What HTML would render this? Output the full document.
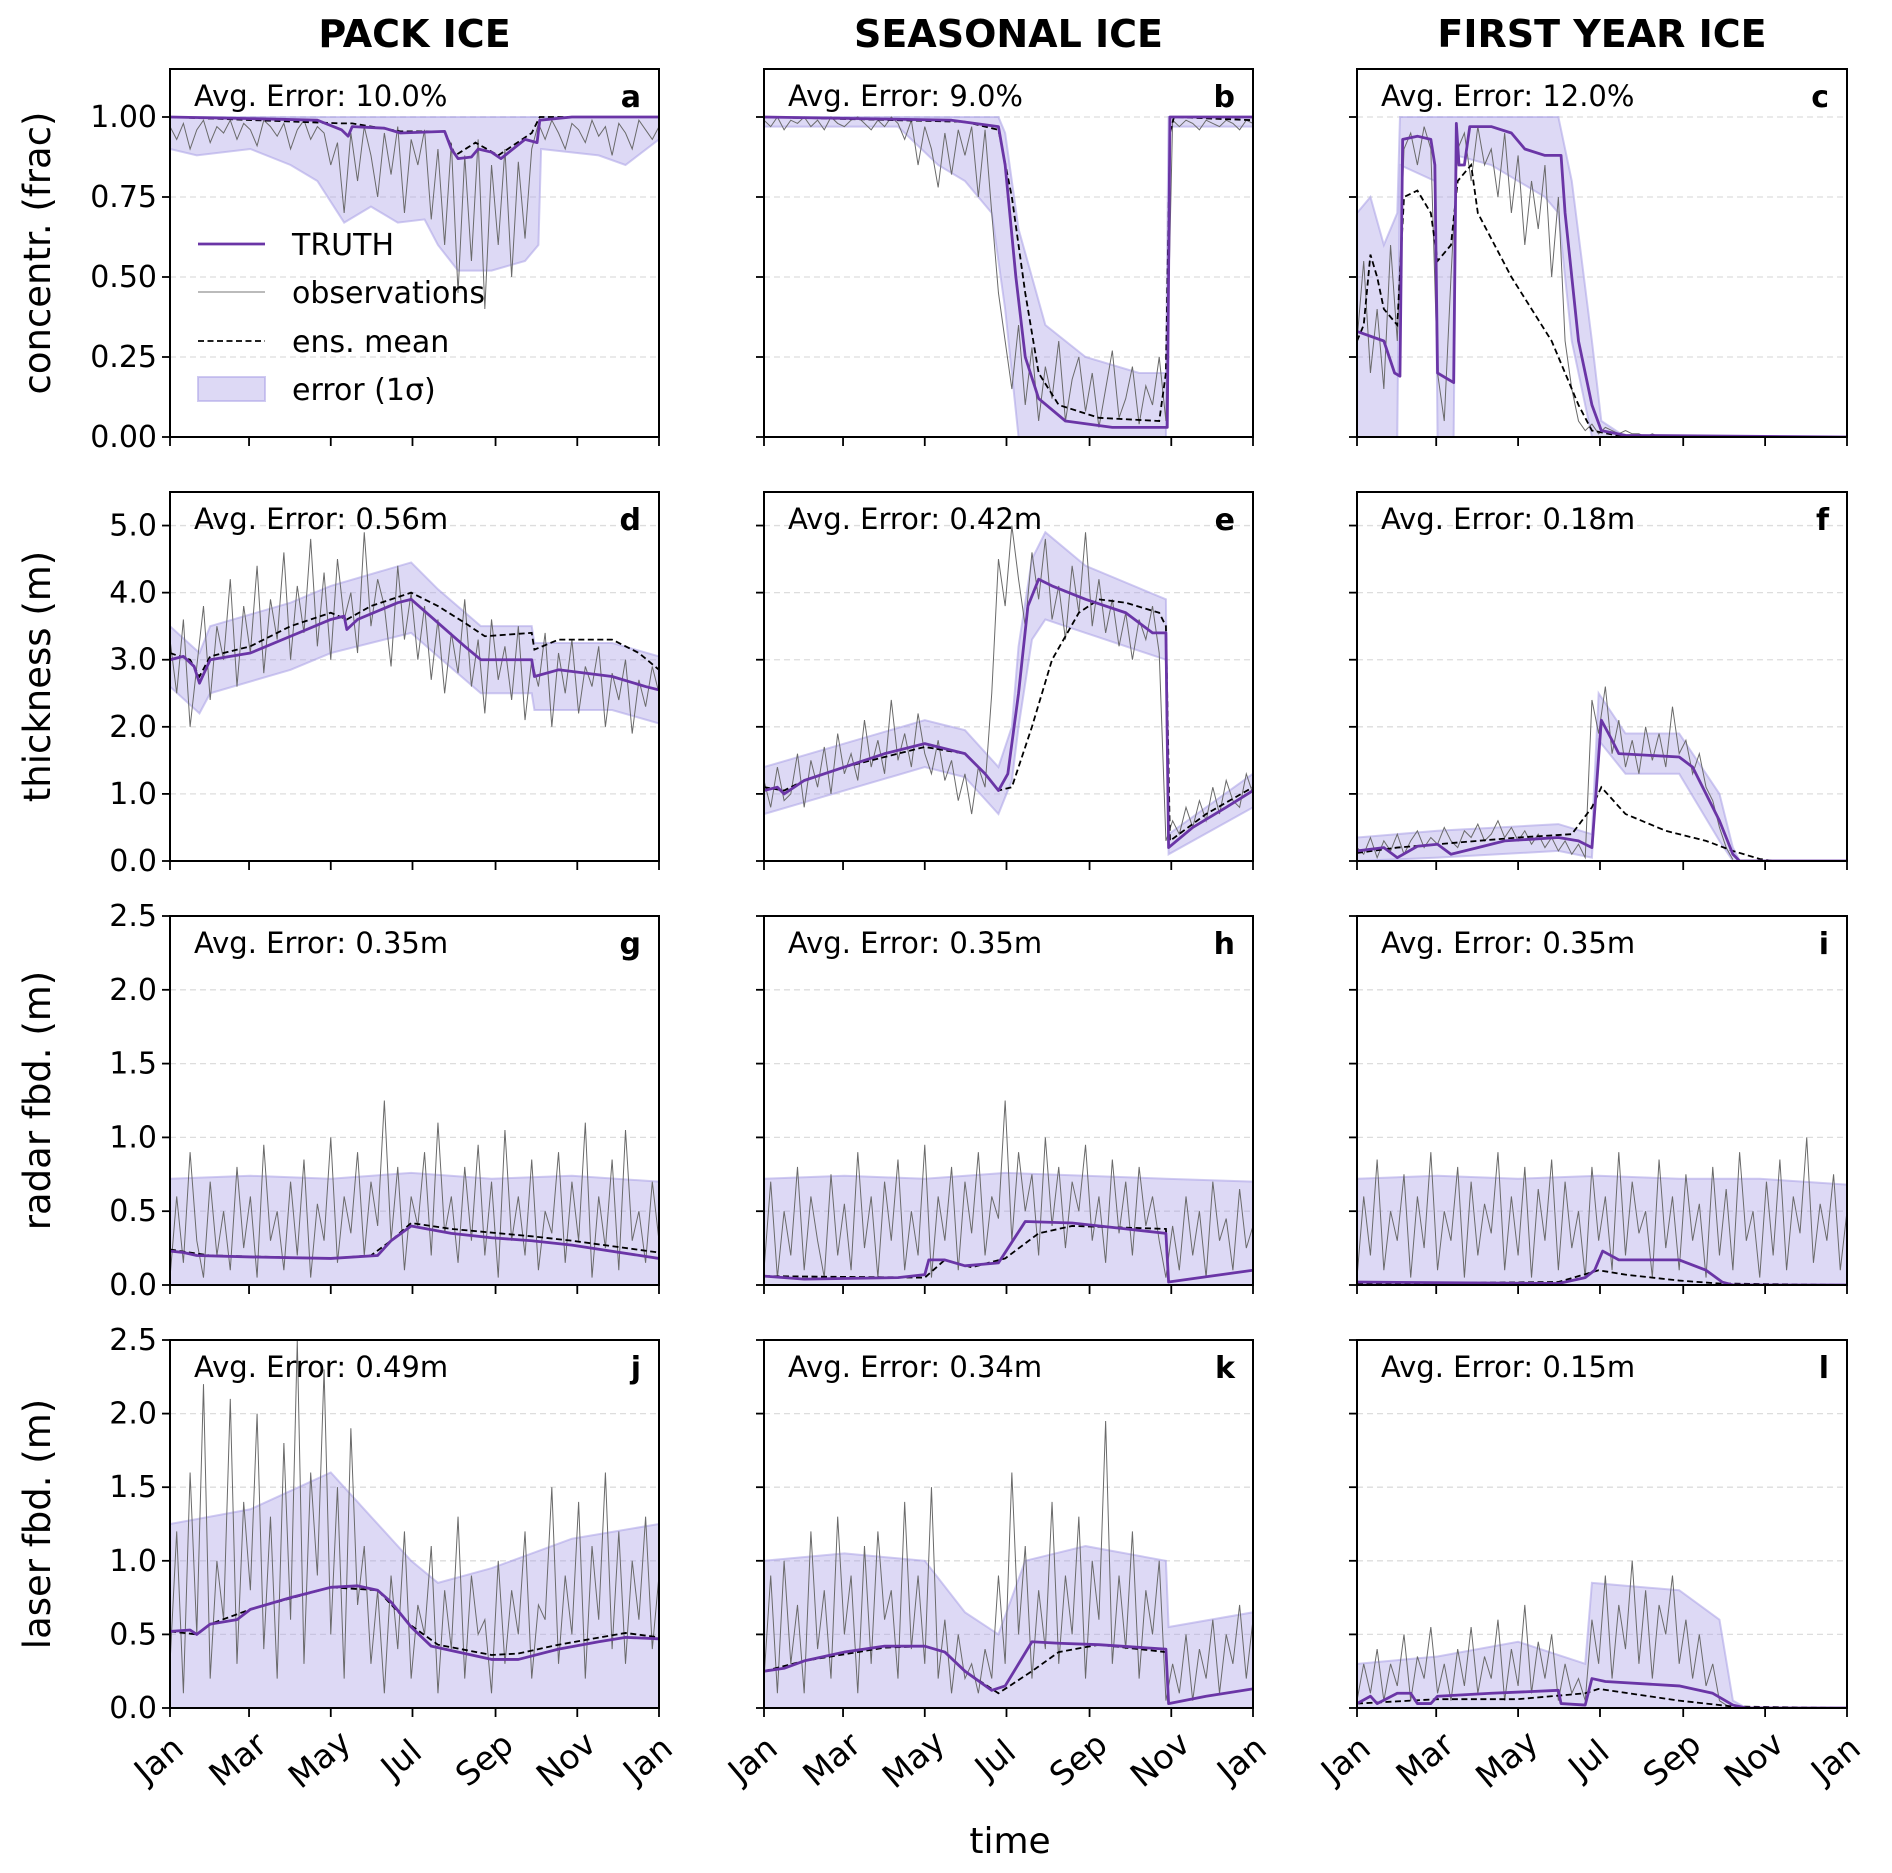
<!DOCTYPE html>
<html><head><meta charset="utf-8">
<style>
html,body{margin:0;padding:0;background:#fff;}
svg{display:block;font-family:"DejaVu Sans","Liberation Sans",sans-serif;}
</style></head>
<body>
<svg id="fig" width="1892" height="1873" viewBox="0 0 1892 1873" xmlns="http://www.w3.org/2000/svg"></svg>
<script>
// ---------- DATA ----------
const months = ["Jan","Mar","May","Jul","Sep","Nov","Jan"];
const monthDays = [0,59,120,181,243,304,365];
const colTitles = ["PACK ICE","SEASONAL ICE","FIRST YEAR ICE"];
const rowLabels = ["concentr. (frac)","thickness (m)","radar fbd. (m)","laser fbd. (m)"];
const rowMax = [1.15,5.5,2.5,2.5];
const rowTicks = [[0,0.25,0.5,0.75,1.0],[0,1,2,3,4,5],[0,0.5,1,1.5,2,2.5],[0,0.5,1,1.5,2,2.5]];
const rowTickLabels = [["0.00","0.25","0.50","0.75","1.00"],["0.0","1.0","2.0","3.0","4.0","5.0"],["0.0","0.5","1.0","1.5","2.0","2.5"],["0.0","0.5","1.0","1.5","2.0","2.5"]];
const panelLetters = ["a","b","c","d","e","f","g","h","i","j","k","l"];
const avgErrors = ["Avg. Error: 10.0%","Avg. Error: 9.0%","Avg. Error: 12.0%","Avg. Error: 0.56m","Avg. Error: 0.42m","Avg. Error: 0.18m","Avg. Error: 0.35m","Avg. Error: 0.35m","Avg. Error: 0.35m","Avg. Error: 0.49m","Avg. Error: 0.34m","Avg. Error: 0.15m"];

const truthA=[[0,1],[60,0.995],[110,0.99],[128,0.96],[133,0.94],[136,0.97],[160,0.965],[172,0.95],[205,0.955],[210,0.9],[215,0.87],[225,0.875],[230,0.9],[240,0.89],[247,0.87],[265,0.93],[274,0.92],[276,0.99],[300,1],[365,1]];
const truthB=[[0,1],[140,0.99],[175,0.97],[180,0.85],[188,0.5],[195,0.25],[205,0.12],[225,0.05],[260,0.03],[301,0.03],[303,1],[365,1]];
const truthC=[[0,0.33],[20,0.3],[28,0.2],[32,0.19],[34,0.93],[45,0.94],[55,0.93],[58,0.85],[60,0.2],[72,0.17],[74,0.98],[76,0.85],[80,0.85],[84,0.97],[100,0.97],[115,0.95],[125,0.9],[140,0.88],[152,0.88],[155,0.7],[165,0.3],[175,0.1],[182,0.02],[200,0.005],[365,0]];
const truthD=[[0,3.0],[10,3.05],[18,2.9],[22,2.65],[30,3.0],[60,3.1],[90,3.35],[120,3.6],[130,3.65],[132,3.45],[140,3.6],[170,3.85],[180,3.9],[200,3.55],[220,3.2],[232,3.0],[270,3.0],[272,2.75],[290,2.85],[330,2.75],[355,2.6],[365,2.55]];
const truthE=[[0,1.05],[10,1.1],[15,1.0],[30,1.2],[60,1.4],[90,1.6],[120,1.75],[150,1.6],[165,1.3],[175,1.05],[182,1.3],[190,2.5],[197,3.8],[205,4.2],[215,4.1],[240,3.9],[270,3.7],[290,3.4],[300,3.4],[302,0.2],[320,0.5],[345,0.8],[365,1.05]];
const truthF=[[0,0.15],[20,0.2],[30,0.05],[45,0.22],[60,0.25],[70,0.1],[90,0.2],[110,0.3],[150,0.35],[165,0.3],[175,0.2],[178,1.0],[182,2.1],[190,1.8],[195,1.6],[240,1.55],[250,1.4],[270,0.6],[280,0.1],[285,0],[365,0]];
const truthG=[[0,0.23],[10,0.22],[20,0.2],[60,0.19],[120,0.18],[155,0.2],[165,0.3],[180,0.4],[210,0.35],[240,0.32],[270,0.3],[300,0.27],[365,0.18]];
const truthH=[[0,0.06],[30,0.04],[100,0.05],[120,0.07],[123,0.17],[135,0.17],[150,0.13],[175,0.15],[195,0.43],[230,0.42],[270,0.38],[300,0.35],[302,0.02],[365,0.1]];
const truthI=[[0,0.02],[150,0.01],[170,0.05],[177,0.1],[183,0.23],[195,0.17],[240,0.17],[260,0.1],[272,0.02],[280,0],[365,0]];
const truthJ=[[0,0.52],[15,0.53],[20,0.5],[30,0.57],[50,0.6],[60,0.67],[90,0.75],[120,0.82],[140,0.83],[155,0.8],[165,0.72],[180,0.55],[195,0.42],[220,0.37],[240,0.33],[260,0.33],[290,0.4],[320,0.45],[340,0.48],[365,0.47]];
const truthK=[[0,0.25],[15,0.27],[30,0.32],[60,0.38],[90,0.42],[120,0.42],[135,0.38],[150,0.25],[170,0.12],[180,0.15],[190,0.3],[200,0.45],[220,0.44],[250,0.43],[300,0.4],[302,0.03],[330,0.08],[365,0.13]];
const truthL=[[0,0.03],[10,0.08],[15,0.03],[30,0.1],[40,0.1],[45,0.03],[55,0.03],[60,0.08],[100,0.1],[150,0.12],[152,0.03],[170,0.02],[175,0.2],[185,0.18],[240,0.15],[265,0.1],[280,0.02],[290,0],[365,0]];

const meanA=[[0,1],[128,0.98],[136,0.98],[172,0.955],[205,0.955],[213,0.88],[228,0.92],[245,0.88],[270,0.95],[276,1],[365,1]];
const meanB=[[0,1],[150,0.985],[175,0.96],[185,0.75],[195,0.45],[205,0.2],[220,0.1],[250,0.06],[295,0.05],[300,0.2],[303,0.95],[306,1],[365,0.99]];
const meanC=[[0,0.3],[5,0.35],[10,0.57],[15,0.5],[20,0.4],[30,0.35],[35,0.75],[45,0.77],[55,0.7],[60,0.55],[70,0.6],[75,0.8],[85,0.85],[90,0.7],[100,0.62],[115,0.5],[130,0.4],[145,0.3],[155,0.2],[165,0.1],[175,0.02],[200,0],[365,0]];
const meanD=[[0,3.1],[15,3.0],[22,2.75],[30,3.05],[60,3.2],[90,3.5],[120,3.7],[132,3.6],[150,3.8],[180,4.0],[200,3.8],[220,3.55],[235,3.35],[270,3.4],[272,3.15],[290,3.3],[330,3.3],[350,3.1],[365,2.85]];
const meanE=[[0,1.1],[15,1.05],[30,1.2],[60,1.4],[90,1.55],[120,1.7],[150,1.6],[165,1.3],[175,1.05],[185,1.1],[200,2.0],[215,3.0],[235,3.7],[250,3.9],[270,3.85],[295,3.7],[300,3.5],[303,0.3],[330,0.7],[365,1.1]];
const meanF=[[0,0.12],[30,0.2],[60,0.25],[120,0.35],[160,0.4],[175,0.8],[182,1.1],[200,0.7],[230,0.45],[260,0.3],[280,0.15],[300,0.03],[310,0],[365,0]];
const meanG=[[0,0.24],[30,0.2],[120,0.18],[150,0.2],[165,0.3],[180,0.42],[210,0.38],[270,0.33],[300,0.3],[365,0.22]];
const meanH=[[0,0.06],[120,0.05],[135,0.17],[155,0.12],[180,0.18],[205,0.35],[230,0.4],[300,0.38],[302,0.02],[365,0.1]];
const meanI=[[0,0.01],[150,0.02],[180,0.1],[200,0.07],[240,0.03],[270,0.01],[365,0]];
const meanJ=[[0,0.52],[20,0.5],[30,0.57],[60,0.67],[120,0.82],[155,0.8],[180,0.56],[200,0.43],[240,0.36],[260,0.37],[290,0.43],[340,0.51],[365,0.48]];
const meanK=[[0,0.25],[30,0.32],[90,0.41],[120,0.42],[135,0.38],[150,0.25],[175,0.1],[200,0.25],[220,0.38],[250,0.43],[300,0.38],[302,0.03],[330,0.08],[365,0.13]];
const meanL=[[0,0.03],[60,0.06],[120,0.06],[170,0.1],[180,0.13],[240,0.05],[280,0.01],[365,0]];

const bandA=[[0,0.9,1],[20,0.88,1],[60,0.9,1],[90,0.85,1],[110,0.8,1],[130,0.67,1],[150,0.72,1],[170,0.67,1],[190,0.68,1],[200,0.6,1],[215,0.52,1],[240,0.52,1],[265,0.55,1],[275,0.6,1],[277,0.9,1],[320,0.88,1],[340,0.85,1],[365,0.93,1]];
const bandB=[[0,0.97,1],[100,0.97,1],[110,0.93,1],[130,0.85,1],[150,0.8,1],[170,0.7,1],[175,0.55,1],[180,0.4,0.95],[190,0,0.65],[210,0,0.35],[240,0,0.25],[280,0,0.2],[300,0,0.2],[302,0.97,1],[365,0.97,1]];
const bandC=[[0,0,0.7],[10,0,0.75],[20,0,0.6],[30,0,0.7],[32,0.85,1],[58,0.8,1],[60,0,1],[72,0,1],[74,0.88,1],[100,0.85,1],[140,0.75,1],[150,0.7,1],[160,0.3,0.8],[175,0,0.3],[182,0,0.05],[200,0,0],[365,0,0]];
const bandD=[[0,2.6,3.5],[22,2.2,3.1],[30,2.5,3.5],[90,2.85,3.85],[120,3.1,4.1],[180,3.4,4.45],[200,3.05,4.05],[232,2.5,3.5],[270,2.5,3.5],[272,2.25,3.25],[330,2.25,3.25],[365,2.05,3.05]];
const bandE=[[0,0.7,1.4],[60,1.05,1.75],[120,1.4,2.1],[150,1.25,1.95],[175,0.7,1.4],[185,1.2,2.0],[190,2.0,3.2],[200,3.3,4.5],[210,3.6,4.9],[240,3.4,4.4],[300,3.0,3.9],[302,0.1,0.4],[365,0.8,1.3]];
const bandF=[[0,0,0.35],[60,0.05,0.45],[150,0.15,0.55],[175,0.05,0.4],[180,1.8,2.5],[200,1.3,1.9],[240,1.3,1.9],[270,0.3,1.0],[280,0,0.2],[285,0,0],[365,0,0]];
const bandG=[[0,0,0.72],[60,0,0.74],[120,0,0.72],[180,0,0.76],[240,0,0.72],[300,0,0.74],[365,0,0.7]];
const bandH=[[0,0,0.72],[60,0,0.74],[120,0,0.72],[180,0,0.76],[240,0,0.74],[300,0,0.72],[365,0,0.7]];
const bandI=[[0,0,0.72],[60,0,0.74],[120,0,0.72],[180,0,0.74],[240,0,0.72],[300,0,0.72],[365,0,0.68]];
const bandJ=[[0,0,1.25],[60,0,1.35],[120,0,1.6],[150,0,1.3],[180,0,1.0],[200,0,0.85],[240,0,0.95],[300,0,1.15],[365,0,1.25]];
const bandK=[[0,0,1.0],[60,0,1.05],[120,0,1.0],[150,0,0.65],[175,0,0.5],[195,0,1.0],[240,0,1.1],[300,0,1.0],[302,0,0.55],[365,0,0.65]];
const bandL=[[0,0,0.3],[60,0,0.35],[120,0,0.45],[170,0,0.3],[175,0,0.85],[240,0,0.8],[270,0,0.6],[280,0,0.05],[290,0,0],[365,0,0]];

const obsA=[0.97,0.93,0.98,0.9,0.96,0.99,0.92,0.97,0.95,0.99,0.93,0.98,0.96,0.91,0.99,0.97,0.94,0.98,0.9,0.96,0.99,0.93,0.97,0.95,0.85,0.92,0.7,0.95,0.8,0.97,0.88,0.75,0.95,0.82,0.97,0.7,0.93,0.85,0.96,0.68,0.9,0.6,0.92,0.45,0.88,0.55,0.93,0.4,0.85,0.6,0.9,0.5,0.86,0.62,0.9,0.98,0.93,0.99,0.95,0.9,0.98,0.96,0.92,0.99,0.94,0.97,0.88,0.98,0.95,0.9,0.99,0.96,0.93,0.97];
const obsB=[0.99,0.97,1,0.96,0.99,0.98,1,0.97,0.99,0.96,1,0.98,0.97,0.99,1,0.98,0.96,0.99,0.97,1,0.98,0.93,0.99,0.85,0.97,0.9,0.78,0.95,0.82,0.96,0.88,0.97,0.75,0.96,0.7,0.45,0.3,0.15,0.35,0.1,0.28,0.05,0.22,0.12,0.3,0.05,0.18,0.25,0.08,0.2,0.03,0.15,0.27,0.06,0.12,0.22,0.04,0.16,0.1,0.25,0.05,0.99,0.97,0.99,0.98,0.96,0.99,0.98,0.97,0.99,0.98,0.96,0.99,0.98];
const obsC=[0.3,0.55,0.2,0.4,0.15,0.6,0.3,0.9,0.95,0.85,0.97,0.9,0.2,0.05,0.5,0.9,0.95,0.8,0.97,0.85,0.9,0.75,0.95,0.7,0.88,0.6,0.8,0.65,0.85,0.5,0.75,0.3,0.15,0.05,0.02,0.04,0.01,0.03,0.02,0.01,0.02,0.01,0.01,0.0,0.01,0.0,0.0,0.0,0.0,0.0,0.0,0.0,0.0,0.0,0.0,0.0,0.0,null,null,null,null,null,null,null,null,null,null,null,null,null,null,null,null,null];
const obsD=[3.3,2.5,3.6,2.0,2.9,3.8,2.4,3.5,3.0,4.2,2.6,3.8,3.1,4.4,2.8,3.9,3.3,4.6,3.0,4.1,3.4,4.8,3.2,4.3,3.0,4.5,3.6,4.0,3.1,4.9,3.5,4.2,3.8,2.9,4.4,3.3,4.0,3.0,3.8,2.7,3.6,2.5,3.4,2.8,3.9,2.6,3.3,2.2,3.6,2.7,3.2,2.4,3.5,2.1,3.0,2.6,3.4,2.0,3.1,2.5,3.3,2.2,2.9,2.6,3.2,2.0,2.8,2.4,3.0,1.9,2.7,2.3,2.9,2.5];
const obsE=[1.2,0.8,1.4,0.9,1.0,1.6,0.8,1.5,1.1,1.7,1.0,1.9,1.3,1.6,1.2,2.1,1.4,1.8,1.3,2.4,1.5,1.9,1.4,2.2,1.6,1.3,1.8,1.2,1.5,0.9,1.3,0.7,1.4,1.1,2.5,4.5,3.8,5.0,4.2,3.5,4.6,3.9,4.8,3.6,4.1,3.3,4.4,3.7,4.9,3.5,4.2,3.4,3.9,3.2,3.7,3.0,3.6,3.3,3.8,3.1,0.3,0.6,0.4,0.8,0.5,0.9,0.6,1.1,0.7,1.2,0.9,0.8,1.3,1.0];
const obsF=[0.2,0.1,0.35,0.05,0.3,0.15,0.4,0.1,0.3,0.45,0.2,0.35,0.25,0.5,0.3,0.2,0.45,0.35,0.55,0.3,0.4,0.6,0.35,0.5,0.3,0.45,0.25,0.4,0.2,0.35,0.15,0.3,0.1,0.25,0.05,2.4,1.9,2.6,1.6,2.1,1.4,1.8,1.3,2.0,1.5,1.9,1.4,2.3,1.6,1.8,1.3,1.6,1.1,0.9,0.5,0.2,0.02,null,null,null,null,null,null,null,null,null,null,null,null,null,null,null,null,null];
const obsG=[0.05,0.6,0.15,0.9,0.3,0.05,0.7,0.2,0.5,0.1,0.8,0.25,0.6,0.05,0.95,0.3,0.5,0.1,0.7,0.2,0.85,0.05,0.55,0.3,1.0,0.15,0.6,0.35,0.9,0.2,0.7,0.4,1.25,0.3,0.8,0.1,0.6,0.4,0.9,0.2,1.1,0.35,0.6,0.15,0.8,0.3,0.95,0.2,0.7,0.05,1.05,0.3,0.6,0.2,0.85,0.1,0.5,0.35,0.9,0.15,0.7,0.3,1.1,0.05,0.6,0.25,0.85,0.1,1.05,0.3,0.5,0.15,0.7,0.3];
const obsH=[0.1,0.7,0.05,0.5,0.2,0.8,0.1,0.6,0.3,0.05,0.75,0.2,0.55,0.1,0.9,0.25,0.6,0.05,0.7,0.3,0.85,0.1,0.5,0.2,0.95,0.05,0.6,0.3,0.8,0.1,0.7,0.35,0.9,0.2,0.6,0.45,1.25,0.3,0.9,0.5,0.75,0.2,1.0,0.4,0.8,0.25,0.7,0.5,0.95,0.3,0.6,0.15,0.85,0.35,0.7,0.2,0.8,0.4,0.6,0.3,0.05,0.4,0.1,0.6,0.2,0.5,0.05,0.7,0.3,0.45,0.1,0.65,0.25,0.4];
const obsI=[0.05,0.6,0.2,0.85,0.1,0.5,0.3,0.75,0.05,0.6,0.25,0.9,0.1,0.5,0.3,0.8,0.05,0.7,0.2,0.55,0.35,0.9,0.1,0.6,0.2,0.8,0.05,0.65,0.3,0.85,0.1,0.7,0.25,0.5,0.05,0.8,0.3,0.6,0.1,0.9,0.2,0.7,0.35,0.5,0.05,0.85,0.25,0.6,0.1,0.75,0.3,0.55,0.05,0.8,0.2,0.65,0.1,0.9,0.3,0.5,0.05,0.7,0.2,0.85,0.1,0.6,0.35,1.0,0.15,0.55,0.3,0.75,0.1,0.5];
const obsJ=[0.3,1.2,0.1,1.6,0.5,2.2,0.2,1.0,0.6,2.1,0.3,1.4,0.8,2.0,0.4,1.3,0.2,1.8,0.6,2.5,0.3,1.6,0.9,2.3,0.5,1.5,0.2,1.9,0.7,1.1,0.3,0.8,0.1,0.9,0.4,1.2,0.2,0.7,0.5,1.1,0.1,0.8,0.4,1.3,0.2,0.9,0.5,0.6,0.1,1.0,0.3,0.8,0.5,1.2,0.2,0.7,0.6,1.5,0.3,0.9,0.5,1.4,0.2,1.1,0.6,1.6,0.4,1.2,0.3,1.0,0.6,1.3,0.4,0.9];
const obsK=[0.2,0.9,0.1,1.0,0.3,0.7,0.1,1.2,0.4,0.8,0.2,1.3,0.5,0.9,0.1,1.1,0.3,1.2,0.6,0.8,0.2,1.4,0.4,0.9,0.3,1.5,0.2,0.6,0.1,0.5,0.2,0.3,0.1,0.4,0.2,0.9,0.3,1.6,0.5,1.1,0.2,0.8,0.4,1.4,0.3,0.9,0.5,1.3,0.2,1.0,0.6,1.95,0.3,0.9,0.4,1.2,0.2,0.8,0.5,1.0,0.05,0.3,0.1,0.5,0.05,0.4,0.2,0.6,0.1,0.5,0.3,0.7,0.2,0.6];
const obsL=[0.05,0.3,0.1,0.4,0.05,0.3,0.15,0.5,0.05,0.35,0.2,0.55,0.1,0.3,0.05,0.4,0.15,0.55,0.1,0.35,0.2,0.6,0.05,0.4,0.15,0.7,0.1,0.45,0.2,0.5,0.05,0.3,0.1,0.2,0.05,0.6,0.3,0.9,0.2,0.7,0.4,1.0,0.3,0.8,0.2,0.7,0.5,0.9,0.3,0.6,0.2,0.5,0.15,0.3,0.05,0.02,0.0,null,null,null,null,null,null,null,null,null,null,null,null,null,null,null,null,null];

const truths=[truthA,truthB,truthC,truthD,truthE,truthF,truthG,truthH,truthI,truthJ,truthK,truthL];
const means=[meanA,meanB,meanC,meanD,meanE,meanF,meanG,meanH,meanI,meanJ,meanK,meanL];
const bands=[bandA,bandB,bandC,bandD,bandE,bandF,bandG,bandH,bandI,bandJ,bandK,bandL];
const obss=[obsA,obsB,obsC,obsD,obsE,obsF,obsG,obsH,obsI,obsJ,obsK,obsL];

// ---------- LAYOUT ----------
const colX=[[170,659],[764,1253],[1357,1847]];
const rowY=[[69,437],[492,861],[916,1285],[1340,1708]];
const NS="http://www.w3.org/2000/svg";
const svg=document.getElementById('fig');
function mk(tag,attrs,parent){const e=document.createElementNS(NS,tag);for(const k in attrs)e.setAttribute(k,attrs[k]);(parent||svg).appendChild(e);return e;}

colTitles.forEach((t,c)=>{
  const e=mk('text',{x:(colX[c][0]+colX[c][1])/2,y:47,'text-anchor':'middle','font-size':38,'font-weight':'bold'});
  e.textContent=t;
  
  
});
rowLabels.forEach((t,r)=>{
  const cy=(rowY[r][0]+rowY[r][1])/2;
  const e=mk('text',{x:0,y:0,transform:`translate(50,${cy}) rotate(-90)`,'text-anchor':'middle','font-size':37});
  e.textContent=t;
  
  
});
{
  const e=mk('text',{x:1010,y:1853,'text-anchor':'middle','font-size':36});
  e.textContent='time';
  
  
}

for(let r=0;r<4;r++)for(let c=0;c<3;c++){
  const p=r*3+c;
  const [x0,x1]=colX[c],[y0,y1]=rowY[r];
  const g=mk('g',{});
  
  
  const xs=d=>x0+(x1-x0)*d/365;
  const ys=v=>y1-(y1-y0)*v/rowMax[r];
  const clipId='clip'+p;
  const defs=mk('defs',{},g);
  const cp=mk('clipPath',{id:clipId},defs);
  mk('rect',{x:x0,y:y0,width:x1-x0,height:y1-y0},cp);
  rowTicks[r].forEach((t,i)=>{
    const gl=mk('line',{x1:x0,x2:x1,y1:ys(t),y2:ys(t),stroke:'#dddddd','stroke-width':1.3,'stroke-dasharray':'6,4'},g);
    
    
  });
  const plot=mk('g',{'clip-path':`url(#${clipId})`},g);
  const b=bands[p];
  let d='M'+b.map(q=>xs(q[0])+','+ys(q[2])).join('L')+'L'+b.slice().reverse().map(q=>xs(q[0])+','+ys(q[1])).join('L')+'Z';
  const be=mk('path',{d:d,fill:'rgba(170,160,230,0.4)',stroke:'rgba(170,160,230,0.55)','stroke-width':2},plot);
  
  
  const o=obss[p];const n=o.length;let od='';let pen=false;
  o.forEach((v,i)=>{if(v===null){pen=false;return;}const X=xs(i*365/(n-1)),Y=ys(v);od+=(pen?'L':'M')+X+','+Y;pen=true;});
  const oe=mk('path',{d:od,fill:'none',stroke:'#6a6a6a','stroke-width':1},plot);
  
  
  const me=mk('path',{d:'M'+means[p].map(q=>xs(q[0])+','+ys(q[1])).join('L'),fill:'none',stroke:'#000','stroke-width':1.8,'stroke-dasharray':'6,3.5'},plot);
  
  
  const te=mk('path',{d:'M'+truths[p].map(q=>xs(q[0])+','+ys(q[1])).join('L'),fill:'none',stroke:'#6a35a6','stroke-width':2.8,'stroke-linejoin':'round'},plot);
  
  
  mk('rect',{x:x0,y:y0,width:x1-x0,height:y1-y0,fill:'none',stroke:'#000','stroke-width':2},g);
  rowTicks[r].forEach((t,i)=>{
    mk('line',{x1:x0-8,x2:x0,y1:ys(t),y2:ys(t),stroke:'#000','stroke-width':1.8},g);
    if(c===0){
      const tl=mk('text',{x:x0-13,y:ys(t)+10,'text-anchor':'end','font-size':30},g);
      tl.textContent=rowTickLabels[r][i];
      
      
    }
  });
  monthDays.forEach((dd,i)=>{
    mk('line',{x1:xs(dd),x2:xs(dd),y1:y1,y2:y1+9,stroke:'#000','stroke-width':1.8},g);
    if(r===3){
      const tl=mk('text',{x:0,y:0,transform:`translate(${xs(dd)-4},${y1+60}) rotate(-40)`,'text-anchor':'middle','font-size':33},g);
      tl.textContent=months[i];
      
      
    }
  });
  const ae=mk('text',{x:x0+24,y:y0+37,'font-size':29},g);
  ae.textContent=avgErrors[p];
  
  
  const le=mk('text',{x:x1-18,y:y0+38,'text-anchor':'end','font-size':30,'font-weight':'bold'},g);
  le.textContent=panelLetters[p];
  
  
}

const lg=mk('g',{});


const ly=[244,292,341,389];
mk('line',{x1:198,x2:265,y1:ly[0],y2:ly[0],stroke:'#6a35a6','stroke-width':2.8},lg);
mk('line',{x1:198,x2:265,y1:ly[1],y2:ly[1],stroke:'#777','stroke-width':0.9},lg);
mk('line',{x1:198,x2:265,y1:ly[2],y2:ly[2],stroke:'#000','stroke-width':1.8,'stroke-dasharray':'6,3.5'},lg);
mk('rect',{x:198,y:ly[3]-12,width:67,height:24,fill:'rgba(170,160,230,0.4)',stroke:'rgba(170,160,230,0.55)','stroke-width':2},lg);
["TRUTH","observations","ens. mean","error (1σ)"].forEach((t,i)=>{
  const e=mk('text',{x:292,y:ly[i]+11,'font-size':30},lg);
  e.textContent=t;
  
  
});
</script>
</body></html>
